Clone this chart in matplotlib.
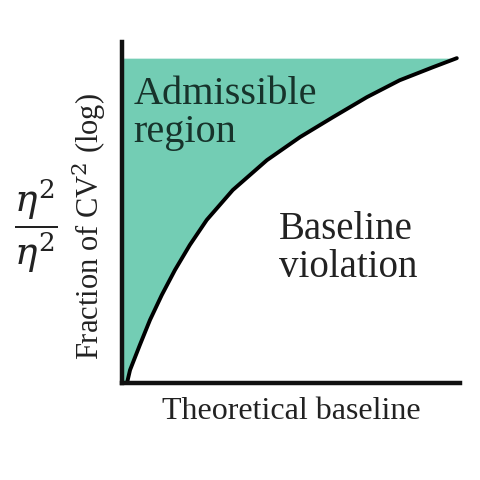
import matplotlib
matplotlib.use("Agg")
import matplotlib.pyplot as plt
import numpy as np

plt.rcParams['font.family'] = ['Liberation Serif', 'DejaVu Serif']
plt.rcParams['mathtext.fontset'] = 'dejavuserif'

# boundary curve between admissible region and baseline violation
curve_x = [0.015, 0.024, 0.053, 0.083, 0.118, 0.157, 0.201, 0.251, 0.328,
           0.429, 0.527, 0.624, 0.725, 0.822, 0.920, 0.991]
curve_y = [0.0, 0.040, 0.117, 0.194, 0.271, 0.348, 0.425, 0.502, 0.594,
           0.686, 0.757, 0.818, 0.880, 0.932, 0.972, 1.0]

region_labels = ['Admissible\nregion', 'Baseline\nviolation']
xlabel = 'Theoretical baseline'
ylabel = 'Fraction of CV$^2$ (log)'

teal = '#73cdb4'

fig = plt.figure(figsize=(4.8, 4.8), dpi=100)
ax = fig.add_axes([0.254, 0.202, 0.704, 0.710])

ax.fill_betweenx(curve_y, 0, curve_x, color=teal, lw=0)
ax.plot(curve_x, curve_y, color='black', lw=2.8, solid_capstyle='round',
        solid_joinstyle='round')

ax.set_xlim(0, 1)
ax.set_ylim(0, 1.049)

for s in ['top', 'right']:
    ax.spines[s].set_visible(False)
for s in ['left', 'bottom']:
    ax.spines[s].set_linewidth(3.2)
    ax.spines[s].set_color('#111111')
ax.set_xticks([])
ax.set_yticks([])

ax.text(0.035, 0.945, region_labels[0], fontsize=29, color='#17332b',
        va='top', ha='left', linespacing=1.05)
ax.text(0.465, 0.53, region_labels[1], fontsize=28, color='#222222',
        va='top', ha='left', linespacing=1.05)

ax.set_xlabel(xlabel, fontsize=23, color='#222222', labelpad=10)
ax.set_ylabel(ylabel, fontsize=22, color='#222222')
ax.yaxis.set_label_coords(-0.04, 0.46)

fig.text(0.075, 0.529, r'$\dfrac{\eta^2}{\eta^2}$', fontsize=27,
         color='#222222', ha='center', va='center')

fig.savefig('out.png', dpi=100)
